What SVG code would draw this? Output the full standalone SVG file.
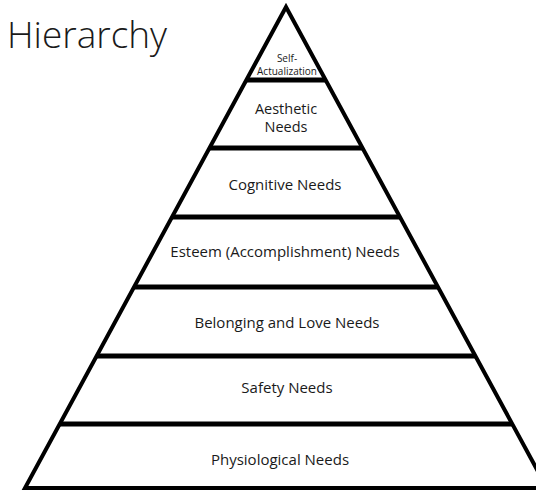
<svg xmlns="http://www.w3.org/2000/svg" width="536" height="492" viewBox="0 0 536 492">
  <style>
    .edge { fill: #ffffff; stroke: #000000; stroke-width: 4; stroke-linejoin: miter; }
    .div { stroke: #000000; stroke-width: 5; }
    .lbl { font-family: "Open Sans", "Liberation Sans", sans-serif; font-size: 15px; fill: #1a1a1a; text-anchor: middle; }
    .mid { font-size: 14.5px; }
    .small { font-size: 10px; }
    .title { font-family: "Open Sans", "Liberation Sans", sans-serif; font-weight: 300; font-size: 37px; fill: #1a1a1a; }
  </style>
  <rect width="536" height="492" fill="#ffffff"/>
  <text class="title" x="7" y="48">Hierarchy</text>
  <g id="pyramid">
    <polygon class="edge" points="286,7 25,488 547,488"/>
  </g>
  <g id="dividers">
    <line class="div" x1="246" y1="80" x2="326" y2="80"/>
    <line class="div" x1="209" y1="148" x2="363" y2="148"/>
    <line class="div" x1="172" y1="217" x2="400" y2="217"/>
    <line class="div" x1="134" y1="287" x2="438" y2="287"/>
    <line class="div" x1="97" y1="356" x2="475" y2="356"/>
    <line class="div" x1="60" y1="424" x2="512" y2="424"/>
  </g>
  <g id="self-actualization">
    <text class="lbl small" x="287" y="62">Self-</text>
    <text class="lbl small" x="287" y="75">Actualization</text>
  </g>
  <g id="aesthetic">
    <text class="lbl mid" x="286" y="114">Aesthetic</text>
    <text class="lbl mid" x="286" y="132">Needs</text>
  </g>
  <g id="cognitive">
    <text class="lbl" x="285" y="190">Cognitive Needs</text>
  </g>
  <g id="esteem">
    <text class="lbl" x="285" y="257">Esteem (Accomplishment) Needs</text>
  </g>
  <g id="belonging">
    <text class="lbl" x="287" y="328">Belonging and Love Needs</text>
  </g>
  <g id="safety">
    <text class="lbl" x="287" y="393">Safety Needs</text>
  </g>
  <g id="physiological">
    <text class="lbl" x="280" y="465">Physiological Needs</text>
  </g>
</svg>
